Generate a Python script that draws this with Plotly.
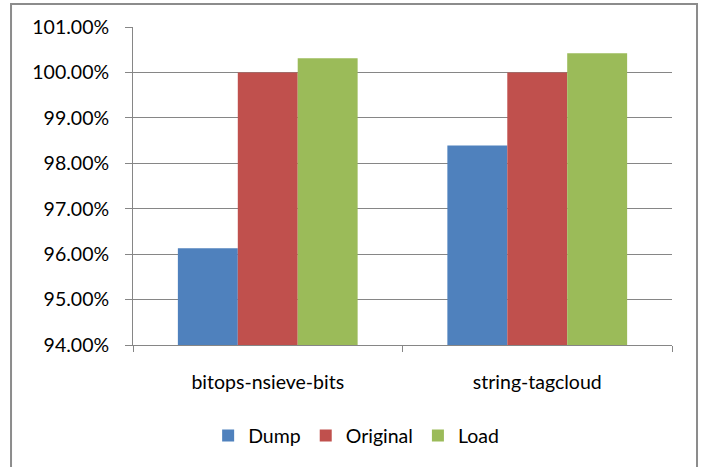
import plotly.graph_objects as go

categories = ["bitops-nsieve-bits", "string-tagcloud"]
dump = [96.13, 98.39]
original = [100.00, 100.00]
load = [100.31, 100.42]
series_names = ["Dump", "Original", "Load"]
colors = ["#4F81BD", "#C0504D", "#9BBB59"]
y_ticks = [94, 95, 96, 97, 98, 99, 100, 101]
y_tick_labels = ["94.00%", "95.00%", "96.00%", "97.00%", "98.00%", "99.00%", "100.00%", "101.00%"]

fig = go.Figure()
for name, vals, col in zip(series_names, [dump, original, load], colors):
    fig.add_trace(go.Bar(x=categories, y=vals, name=name, marker=dict(color=col, line=dict(width=0))))

fig.update_layout(
    width=704, height=467,
    margin=dict(l=133, r=32, t=27, b=122),
    paper_bgcolor="white", plot_bgcolor="white",
    barmode="group", bargap=0.333, bargroupgap=0,
    font=dict(family="Lato, Open Sans, sans-serif", size=19.5, color="#000000"),
    showlegend=True,
    legend=dict(orientation="h", x=0.414, xanchor="center", y=-0.286, yanchor="middle",
                font=dict(size=19.5), itemwidth=30, traceorder="normal"),
    xaxis=dict(type="category", showgrid=False, showline=True, linecolor="#868686", linewidth=1,
               ticks="outside", tickson="boundaries", ticklen=6, tickcolor="#868686",
               ticklabelstandoff=20, automargin=False),
    yaxis=dict(range=[94, 101], tickvals=y_ticks, ticktext=y_tick_labels,
               showgrid=True, gridcolor="#868686", gridwidth=1, showline=True, linecolor="#868686",
               ticks="outside", ticklen=7, tickcolor="#868686", zeroline=False,
               ticklabelstandoff=12, automargin=False),
    shapes=[dict(type="rect", xref="paper", yref="paper", x0=-0.2263, x1=1.0464, y0=-0.42, y1=1.0723,
                 line=dict(color="#8C8C8C", width=2), fillcolor="rgba(0,0,0,0)", layer="below")],
)

fig.write_html("out.html", config={"displayModeBar": False},
               post_script="document.body.style.margin='0';document.body.style.overflow='hidden';")
